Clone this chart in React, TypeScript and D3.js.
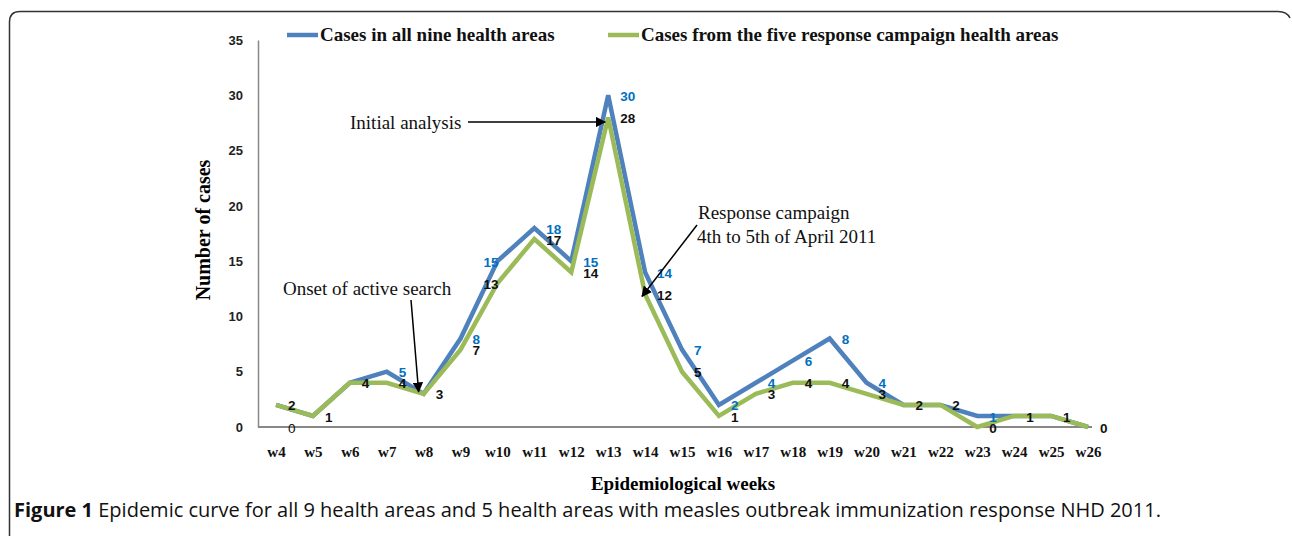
import React, { useEffect, useRef } from "react";
import * as d3 from "d3";

const weeks = ["w4", "w5", "w6", "w7", "w8", "w9", "w10", "w11", "w12", "w13", "w14", "w15", "w16", "w17", "w18", "w19", "w20", "w21", "w22", "w23", "w24", "w25", "w26"];
const allNine = [2, 1, 4, 5, 3, 8, 15, 18, 15, 30, 14, 7, 2, 4, 6, 8, 4, 2, 2, 1, 1, 1, 0];
const fiveResponse = [2, 1, 4, 4, 3, 7, 13, 17, 14, 28, 12, 5, 1, 3, 4, 4, 3, 2, 2, 0, 1, 1, 0];
// weeks where the blue series has a visible data label
const blueLabelWeeks = ["w7", "w9", "w10", "w11", "w12", "w13", "w14", "w15", "w16", "w17", "w18", "w19", "w20", "w23"];
// stray label printed under w4 in the original
const strayLabels = [{ week: "w4", value: 0 }];
const yTicks = [0, 5, 10, 15, 20, 25, 30, 35];

const W = 1292;
const H = 536;
const BLUE = "#4F81BD";
const GREEN = "#9BBB59";
const LABEL_BLUE = "#0070C0";
const serif = "'Liberation Serif', 'DejaVu Serif', serif";
const sans = "'Liberation Sans', Arial, sans-serif";

export default function App() {
  const ref = useRef<SVGSVGElement>(null);

  useEffect(() => {
    const svg = d3.select(ref.current);
    svg.selectAll("*").remove();

    const x = d3.scalePoint().domain(weeks).range([276, 1088]);
    const y = d3.scaleLinear().domain([0, 35]).range([427, 40]);

    // marker
    svg
      .append("defs")
      .append("marker")
      .attr("id", "arrow")
      .attr("viewBox", "0 0 10 10")
      .attr("refX", 9)
      .attr("refY", 5)
      .attr("markerWidth", 7)
      .attr("markerHeight", 7)
      .attr("orient", "auto")
      .append("path")
      .attr("d", "M0,0 L10,5 L0,10 z")
      .attr("fill", "#000");

    // frame
    svg
      .append("path")
      .attr("d", `M9.5,${H} L9.5,22 Q9.5,11.5 20,11.5 L1278,11.5 Q1287,11.5 1290,18`)
      .attr("fill", "none")
      .attr("stroke", "#333")
      .attr("stroke-width", 1.5);

    // axes
    const yAxis = svg
      .append("g")
      .attr("transform", "translate(258,0)")
      .call(d3.axisLeft(y).tickValues(yTicks).tickSize(0).tickPadding(15));
    yAxis.select(".domain").attr("stroke", "#888").attr("stroke-width", 1.5);
    yAxis
      .selectAll("text")
      .attr("font-family", sans)
      .attr("font-weight", "bold")
      .attr("font-size", 13)
      .attr("fill", "#222");

    svg
      .append("line")
      .attr("x1", 258)
      .attr("x2", 1092)
      .attr("y1", y(0))
      .attr("y2", y(0))
      .attr("stroke", "#888")
      .attr("stroke-width", 2);

    const xAxis = svg
      .append("g")
      .attr("transform", `translate(0,${y(0)})`)
      .call(d3.axisBottom(x).tickSize(0).tickPadding(19));
    xAxis.select(".domain").remove();
    xAxis
      .selectAll("text")
      .attr("font-family", serif)
      .attr("font-weight", "bold")
      .attr("font-size", 15)
      .attr("fill", "#111");

    // lines
    const line = d3
      .line<number>()
      .x((d, i) => x(weeks[i]) as number)
      .y((d) => y(d));

    svg
      .append("path")
      .datum(allNine)
      .attr("d", line)
      .attr("fill", "none")
      .attr("stroke", BLUE)
      .attr("stroke-width", 4.5)
      .attr("stroke-linejoin", "miter");
    svg
      .append("path")
      .datum(fiveResponse)
      .attr("d", line)
      .attr("fill", "none")
      .attr("stroke", GREEN)
      .attr("stroke-width", 4.5)
      .attr("stroke-linejoin", "miter");

    // data labels
    const labelX = (w: string) => (x(w) as number) + (w === "w10" ? -14 : 12);
    svg
      .append("g")
      .selectAll("text")
      .data(weeks.filter((w) => blueLabelWeeks.includes(w)))
      .enter()
      .append("text")
      .attr("x", (w) => labelX(w))
      .attr("y", (w) => y(allNine[weeks.indexOf(w)]) + 2)
      .attr("dominant-baseline", "middle")
      .attr("font-family", sans)
      .attr("font-weight", "bold")
      .attr("font-size", 13.5)
      .attr("fill", LABEL_BLUE)
      .text((w) => allNine[weeks.indexOf(w)]);

    svg
      .append("g")
      .selectAll("text")
      .data(fiveResponse)
      .enter()
      .append("text")
      .attr("x", (d, i) => labelX(weeks[i]))
      .attr("y", (d) => y(d) + 2)
      .attr("dominant-baseline", "middle")
      .attr("font-family", sans)
      .attr("font-weight", "bold")
      .attr("font-size", 13.5)
      .attr("fill", "#111")
      .text((d) => d);

    svg
      .append("g")
      .selectAll("text")
      .data(strayLabels)
      .enter()
      .append("text")
      .attr("x", (d) => (x(d.week) as number) + 12)
      .attr("y", (d) => y(d.value) + 2)
      .attr("dominant-baseline", "middle")
      .attr("font-family", sans)
      .attr("font-size", 13.5)
      .attr("fill", "#111")
      .text((d) => d.value);

    // axis titles
    svg
      .append("text")
      .attr("transform", "translate(210,230) rotate(-90)")
      .attr("text-anchor", "middle")
      .attr("font-family", serif)
      .attr("font-weight", "bold")
      .attr("font-size", 20)
      .text("Number of cases");
    svg
      .append("text")
      .attr("x", 683)
      .attr("y", 490)
      .attr("text-anchor", "middle")
      .attr("font-family", serif)
      .attr("font-weight", "bold")
      .attr("font-size", 19)
      .text("Epidemiological weeks");

    // legend
    const legend = [
      { label: "Cases in all nine health areas", color: BLUE, x: 287 },
      { label: "Cases from the five response campaign health areas", color: GREEN, x: 608 },
    ];
    legend.forEach((l) => {
      svg
        .append("line")
        .attr("x1", l.x)
        .attr("x2", l.x + 31)
        .attr("y1", 35)
        .attr("y2", 35)
        .attr("stroke", l.color)
        .attr("stroke-width", 4.5);
      svg
        .append("text")
        .attr("x", l.x + 33)
        .attr("y", 41)
        .attr("font-family", serif)
        .attr("font-weight", "bold")
        .attr("font-size", 19)
        .attr("fill", "#111")
        .text(l.label);
    });

    // annotations
    const note = (t: string, tx: number, ty: number) =>
      svg
        .append("text")
        .attr("x", tx)
        .attr("y", ty)
        .attr("font-family", serif)
        .attr("font-size", 19)
        .attr("fill", "#111")
        .text(t);
    const arrow = (x1: number, y1: number, x2: number, y2: number) =>
      svg
        .append("line")
        .attr("x1", x1)
        .attr("y1", y1)
        .attr("x2", x2)
        .attr("y2", y2)
        .attr("stroke", "#000")
        .attr("stroke-width", 1.5)
        .attr("marker-end", "url(#arrow)");

    note("Initial analysis", 350, 129);
    arrow(468, 122, (x("w13") as number) - 3, 122);
    note("Onset of active search", 283, 295);
    arrow(411, 300, (x("w8") as number) - 5, y(3) - 2);
    note("Response campaign", 698, 219);
    note("4th to 5th of April 2011", 697, 243);
    arrow(697, 225, (x("w14") as number) - 3, y(12) + 2);

    // caption
    const cap = svg
      .append("text")
      .attr("x", 14)
      .attr("y", 517)
      .attr("font-family", "'Open Sans', 'Noto Sans', sans-serif")
      .attr("font-size", 20)
      .attr("fill", "#111");
    cap.append("tspan").attr("font-weight", "bold").text("Figure 1");
    cap
      .append("tspan")
      .text(" Epidemic curve for all 9 health areas and 5 health areas with measles outbreak immunization response NHD 2011.");
  }, []);

  return (
    <div style={{ position: "absolute", left: 0, top: 0 }}>
      <svg ref={ref} width={W} height={H} style={{ display: "block", background: "#fff" }} />
    </div>
  );
}
